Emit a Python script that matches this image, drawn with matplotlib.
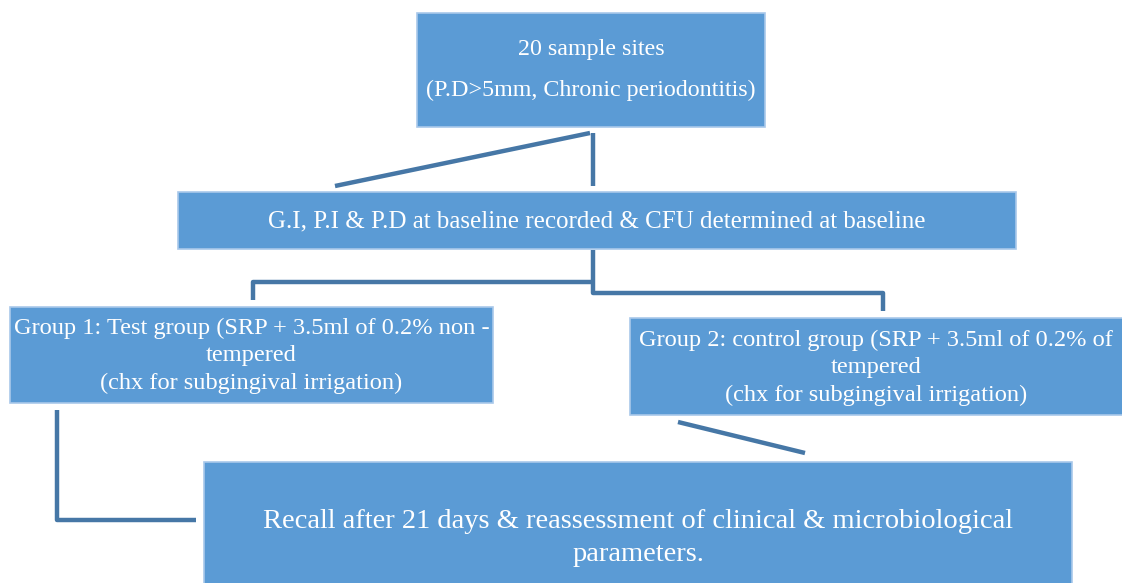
import matplotlib.pyplot as plt
from matplotlib.patches import Rectangle

# box labels (text of the flowchart)
labels = [
    "20 sample sites\n(P.D>5mm, Chronic periodontitis)",
    "G.I, P.I & P.D at baseline recorded & CFU determined at baseline",
    "Group 1: Test group (SRP + 3.5ml of 0.2% non -\ntempered\n(chx for subgingival irrigation)",
    "Group 2: control group (SRP + 3.5ml of 0.2% of\ntempered\n(chx for subgingival irrigation)",
    "Recall after 21 days & reassessment of clinical & microbiological\nparameters.",
]

# layout in pixels: x0, y0, x1, y1 and text style
boxes = [
    (417, 13, 765, 127),
    (178, 192, 1016, 249),
    (10, 307, 493, 403),
    (630, 318, 1125, 415),
    (204, 462, 1072, 590),
]
text_y = [70, 221, 356, 368, 538]
font_sizes = [17.3, 18.0, 17.6, 17.6, 20.5]
line_sp = [2.25, 1.0, 1.4, 1.4, 1.47]

# connector polylines
connectors = [
    [(593, 133), (593, 186)],
    [(590, 133), (335, 186)],
    [(593, 250), (593, 293), (883, 293), (883, 311)],
    [(593, 282), (253, 282), (253, 300)],
    [(57, 410), (57, 520), (196, 520)],
    [(678, 422), (805, 453)],
]

fill = "#5B9BD5"
edge = "#A9C8EA"
line_col = "#4677A6"

fig = plt.figure(figsize=(11.22, 5.83), dpi=100)
ax = fig.add_axes([0, 0, 1, 1])
ax.set_xlim(0, 1122)
ax.set_ylim(583, 0)
ax.axis("off")

for pts in connectors:
    xs = [p[0] for p in pts]
    ys = [p[1] for p in pts]
    ax.plot(xs, ys, color=line_col, lw=3.2, solid_capstyle="butt", zorder=1)

for (x0, y0, x1, y1), lab, ty, fs, ls in zip(boxes, labels, text_y, font_sizes, line_sp):
    ax.add_patch(Rectangle((x0, y0), x1 - x0, y1 - y0, facecolor=fill,
                           edgecolor=edge, lw=1.2, zorder=2))
    ax.text((x0 + min(x1, 1122)) / 2, ty, lab, ha="center", va="center",
            color="white", fontsize=fs, family="Liberation Serif",
            linespacing=ls, zorder=3)

fig.savefig("out.png", dpi=100)
